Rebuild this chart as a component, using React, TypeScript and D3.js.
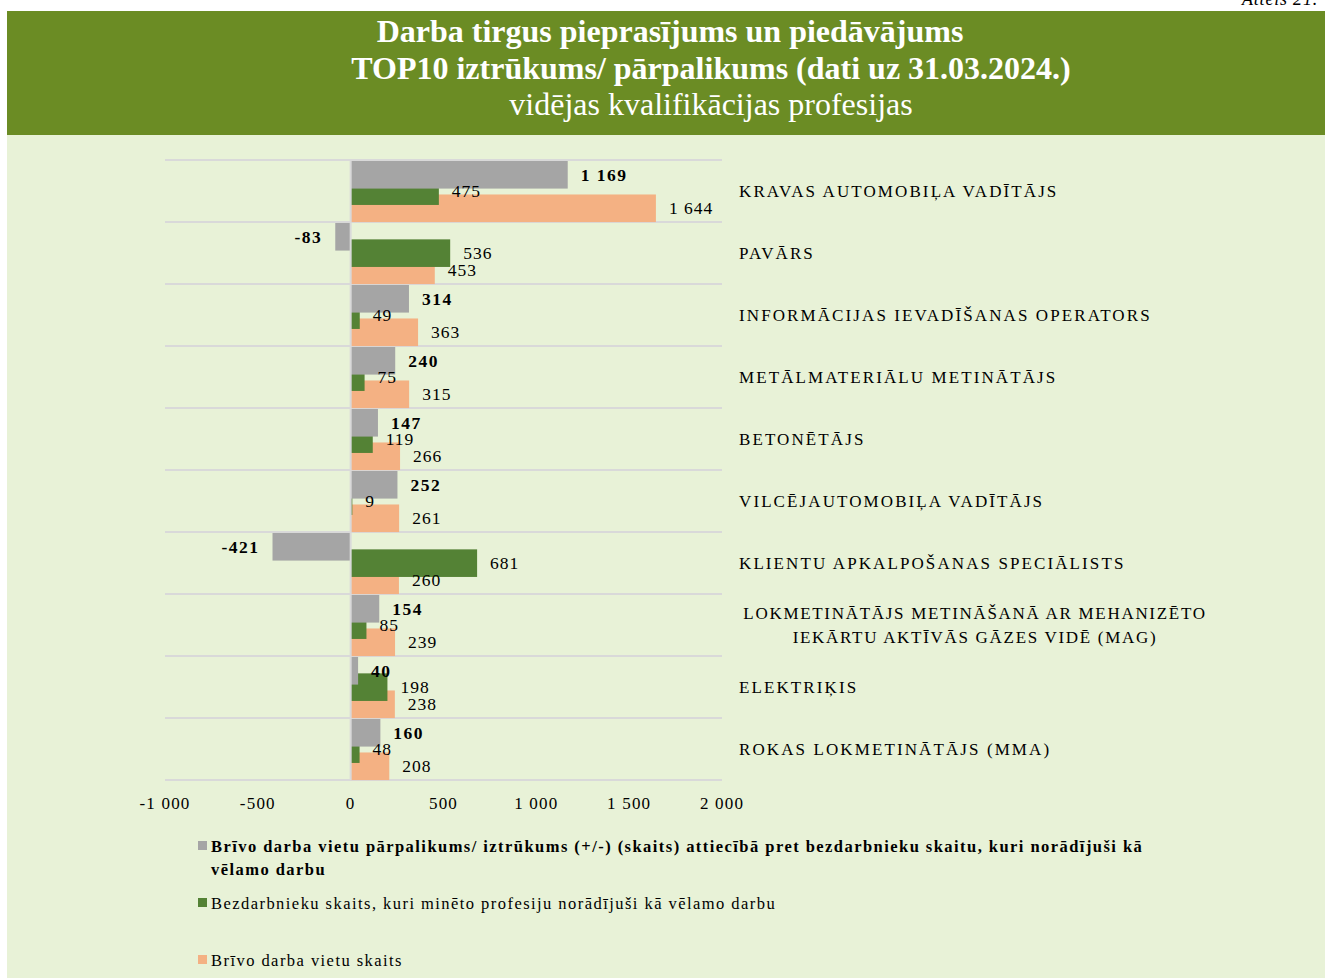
import React from "react";
import * as d3 from "d3";

const W = 1325;
const H = 978;

const categories = [
  "KRAVAS AUTOMOBIĻA VADĪTĀJS",
  "PAVĀRS",
  "INFORMĀCIJAS IEVADĪŠANAS OPERATORS",
  "METĀLMATERIĀLU METINĀTĀJS",
  "BETONĒTĀJS",
  "VILCĒJAUTOMOBIĻA VADĪTĀJS",
  "KLIENTU APKALPOŠANAS SPECIĀLISTS",
  "LOKMETINĀTĀJS METINĀŠANĀ AR MEHANIZĒTO|IEKĀRTU AKTĪVĀS GĀZES VIDĒ (MAG)",
  "ELEKTRIĶIS",
  "ROKAS LOKMETINĀTĀJS (MMA)",
];
const gapValues = [1169, -83, 314, 240, 147, 252, -421, 154, 40, 160];
const unemployedValues = [475, 536, 49, 75, 119, 9, 681, 85, 198, 48];
const vacancyValues = [1644, 453, 363, 315, 266, 261, 260, 239, 238, 208];
const xTicks = [-1000, -500, 0, 500, 1000, 1500, 2000];

const legendItems = [
  {
    lines: [
      "Brīvo darba vietu pārpalikums/ iztrūkums (+/-) (skaits) attiecībā pret bezdarbnieku skaitu, kuri norādījuši kā",
      "vēlamo darbu",
    ],
    color: "#a5a5a5",
    bold: true,
  },
  { lines: ["Bezdarbnieku skaits, kuri minēto profesiju norādījuši kā vēlamo darbu"], color: "#548235", bold: false },
  { lines: ["Brīvo darba vietu skaits"], color: "#f4b183", bold: false },
];

const FONT = "'Liberation Serif', 'Times New Roman', serif";
const PLOT = { left: 165, right: 722, top: 160, bottom: 780 };

const fmt = d3
  .formatLocale({ decimal: ",", thousands: " ", grouping: [3], currency: ["", ""], minus: "-" })
  .format(",d");

export default function App() {
  const x = d3.scaleLinear().domain([-1000, 2000]).range([PLOT.left, PLOT.right]);
  const y = d3
    .scaleBand<number>()
    .domain(d3.range(categories.length))
    .range([PLOT.top, PLOT.bottom])
    .padding(0);
  const bw = y.bandwidth();
  const barH = bw * 0.445;

  // series: offset within band, drawn back to front (orange, green, gray)
  const series = [
    { values: vacancyValues, color: "#f4b183", off: bw * 0.556, bold: false },
    { values: unemployedValues, color: "#548235", off: bw * 0.28, bold: false },
    { values: gapValues, color: "#a5a5a5", off: bw * 0.016, bold: true },
  ];

  const x0 = x(0);

  return (
    <svg
      width={W}
      height={H}
      style={{ position: "absolute", left: 0, top: 0, display: "block" }}
      fontFamily={FONT}
    >
      <rect x={0} y={0} width={W} height={H} fill="#ffffff" />
      <rect x={7} y={135} width={W - 7} height={H - 135} fill="#e8f2d7" />
      <rect x={7} y={11} width={W - 7} height={124} fill="#6b8c24" />
      <text x={1318} y={5} textAnchor="end" fontSize={18} fontStyle="italic" letterSpacing={0.8} fill="#000">
        Attēls 21.
      </text>
      <g fill="#ffffff" textAnchor="middle">
        <text x={670} y={42} fontSize={32} fontWeight="bold">
          Darba tirgus pieprasījums un piedāvājums
        </text>
        <text x={711} y={79} fontSize={32} fontWeight="bold">
          TOP10 iztrūkums/ pārpalikums (dati uz 31.03.2024.)
        </text>
        <text x={711} y={115} fontSize={32}>
          vidējas kvalifikācijas profesijas
        </text>
      </g>

      {/* gridlines between categories */}
      {d3.range(categories.length + 1).map((i) => {
        const yy = PLOT.top + i * bw;
        return (
          <line key={i} x1={PLOT.left} x2={PLOT.right} y1={yy} y2={yy} stroke="#d9d9d9" strokeWidth={2} />
        );
      })}

      {/* bars */}
      {series.map((s, si) => (
        <g key={si}>
          {s.values.map((v, i) => (
            <rect
              key={i}
              x={Math.min(x(v), x0)}
              y={(y(i) as number) + s.off}
              width={Math.abs(x(v) - x0)}
              height={barH}
              fill={s.color}
            />
          ))}
        </g>
      ))}

      {/* zero line */}
      <line x1={x0} x2={x0} y1={PLOT.top} y2={PLOT.bottom} stroke="#d9d9d9" strokeWidth={2} />

      {/* value labels */}
      {series.map((s, si) => (
        <g key={si} fontSize={17.5} fill="#000">
          {s.values.map((v, i) => (
            <text
              key={i}
              x={v >= 0 ? x(v) + 13 : x(v) - 13}
              y={(y(i) as number) + s.off + barH / 2}
              dy="0.35em"
              textAnchor={v >= 0 ? "start" : "end"}
              fontWeight={s.bold ? "bold" : "normal"}
              letterSpacing={s.bold ? 1.5 : 1}
            >
              {fmt(v)}
            </text>
          ))}
        </g>
      ))}

      {/* category labels */}
      {categories.map((c, i) => {
        const lines = c.split("|");
        const cy = (y(i) as number) + bw / 2;
        if (lines.length === 1) {
          return (
            <text key={i} x={739} y={cy} dy="0.35em" fontSize={17} letterSpacing={2.1}>
              {c}
            </text>
          );
        }
        return (
          <text key={i} x={975} textAnchor="middle" fontSize={17} letterSpacing={1.7}>
            {lines.map((l, li) => (
              <tspan key={li} x={975} y={cy + (li - (lines.length - 1) / 2) * 24} dy="0.35em">
                {l}
              </tspan>
            ))}
          </text>
        );
      })}

      {/* x axis tick labels */}
      {xTicks.map((t) => (
        <text key={t} x={x(t)} y={803} dy="0.35em" textAnchor="middle" fontSize={17} letterSpacing={1.2}>
          {fmt(t)}
        </text>
      ))}

      {/* legend */}
      {legendItems.map((item, i) => {
        const ys = [846, 903, 960][i];
        return (
          <g key={i}>
            <rect x={198} y={ys - 5} width={9} height={9} fill={item.color} />
            <text fontSize={16.5} fontWeight={item.bold ? "bold" : "normal"} letterSpacing={1.45}>
              {item.lines.map((l, li) => (
                <tspan key={li} x={211} y={ys + li * 23} dy="0.35em">
                  {l}
                </tspan>
              ))}
            </text>
          </g>
        );
      })}
    </svg>
  );
}
